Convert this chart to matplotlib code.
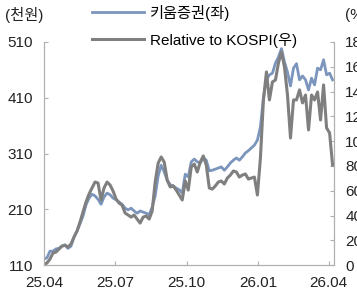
import matplotlib
matplotlib.use("Agg")
import matplotlib.pyplot as plt
import matplotlib.dates as mdates
import pandas as pd

plt.rcParams['font.family'] = ['Liberation Sans', 'Noto Sans CJK KR']
plt.rcParams['font.size'] = 11

# 키움증권 주가 (천원, 좌축)
kiwoom = [121, 123, 135, 135, 139, 140, 144, 146, 140, 144,
          160, 171, 184, 198, 218, 230, 237, 234, 228, 219,
          232, 239, 236, 230, 227, 223, 219, 212, 209, 212,
          207, 203, 207, 205, 203, 200, 214, 234, 270, 289,
          277, 262, 254, 252, 248, 245, 239, 273, 268, 295,
          300, 295, 293, 302, 298, 279, 280, 282, 284, 286,
          280, 286, 293, 298, 302, 298, 304, 311, 315, 320,
          325, 334, 358, 410, 442, 451, 454, 472, 483, 498,
          474, 456, 431, 463, 471, 442, 449, 442, 424, 445,
          433, 463, 460, 478, 451, 454, 442]

# Relative to KOSPI (%, 우축)
relative = [0.8, 1.6, 4.8, 9.7, 10.5, 12.9, 15.3, 16.1, 14.5, 17.0,
            22.6, 27.4, 34.7, 42.8, 50.9, 57.3, 62.2, 67.0, 66.2, 52.5,
            62.2, 67.0, 64.6, 59.7, 53.3, 50.0, 48.4, 42.0, 40.4, 38.7,
            40.4, 37.1, 33.9, 38.7, 39.6, 37.1, 43.6, 67.0, 82.3, 87.2,
            83.1, 68.6, 63.0, 63.8, 60.5, 56.5, 52.5, 67.8, 60.5, 79.1,
            81.5, 75.1, 83.1, 88.0, 80.7, 62.2, 61.3, 63.8, 67.0, 67.8,
            65.4, 70.2, 72.6, 75.9, 75.1, 71.0, 72.6, 73.5, 69.4, 70.2,
            71.0, 56.5, 86.4, 133.2, 155.8, 133.2, 147.7, 149.3, 163.1, 171.9,
            159.8, 137.2, 102.5, 133.2, 133.2, 141.3, 130.8, 137.2, 109.0, 137.2,
            133.2, 139.6, 117.0, 145.3, 110.6, 106.6, 80.7]

dates = pd.date_range('2025-04-01', '2026-04-06', periods=len(kiwoom))

blue = '#7b95bd'
gray = '#7f7f7f'
spine_c = '#b0b0b0'

fig = plt.figure(figsize=(3.57, 2.91), dpi=100)
ax = fig.add_axes([0.123, 0.089, 0.813, 0.767])
ax2 = ax.twinx()

l1, = ax.plot(dates, kiwoom, color=blue, lw=2.0, label='키움증권(좌)')
l2, = ax2.plot(dates, relative, color=gray, lw=2.2, label='Relative to KOSPI(우)')

ax.set_ylim(110, 510)
ax.set_yticks([110, 210, 310, 410, 510])
ax2.set_ylim(0, 180)
ax2.set_yticks(range(0, 181, 20))
ax.set_xlim(pd.Timestamp('2025-04-01'), pd.Timestamp('2026-04-08'))
ax.set_xticks(pd.to_datetime(['2025-04-01', '2025-07-01', '2025-10-01',
                              '2026-01-01', '2026-04-01']))
ax.xaxis.set_major_formatter(mdates.DateFormatter('%y.%m'))

for a in (ax, ax2):
    a.spines['top'].set_visible(False)
    for s in ('left', 'right', 'bottom'):
        a.spines[s].set_color(spine_c)
    a.tick_params(direction='in', length=3, color=spine_c, labelcolor='#222222')
ax.tick_params(axis='y', pad=8)
ax.tick_params(axis='x', pad=8)
ax2.tick_params(axis='y', pad=8)

fig.text(0.013, 0.95, '(천원)', fontsize=11, color='#222222', va='center')
fig.text(0.965, 0.95, '(%)', fontsize=11, color='#222222', va='center')

fig.legend([l1, l2], [l1.get_label(), l2.get_label()], loc='upper left',
           bbox_to_anchor=(0.248, 0.995), frameon=False, handlelength=3.4,
           handletextpad=0.4, labelspacing=0.8, fontsize=11,
           borderaxespad=0.0, borderpad=0.2)

fig.savefig('out.png', dpi=100)
